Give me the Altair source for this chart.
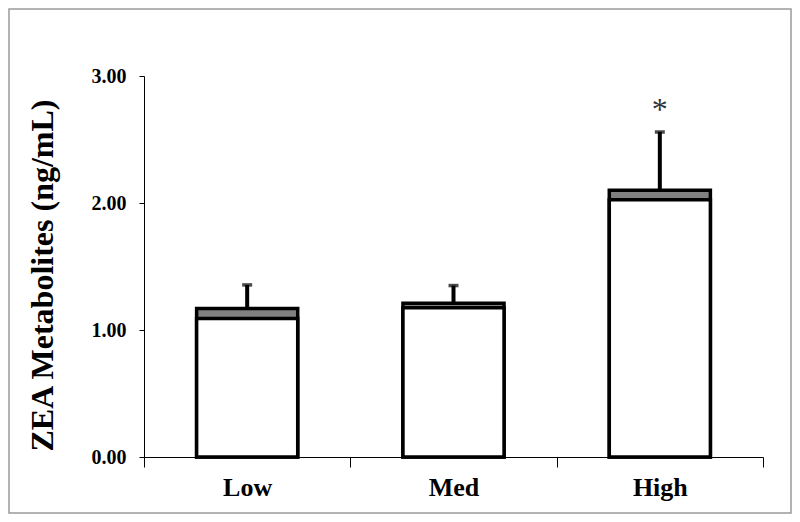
import altair as alt
import pandas as pd

# ---- data ----
groups = ["Low", "Med", "High"]
lower_values = [1.09, 1.175, 2.025]   # white (lower) segment top
total_values = [1.17, 1.21, 2.10]     # grey (upper) segment top
error_tops = [1.355, 1.35, 2.56]      # upper end of the error bar
significance = ["", "", "*"]
y_ticks = [0, 1, 2, 3]

df = pd.DataFrame({
    "group": groups,
    "lower": lower_values,
    "total": total_values,
    "err": error_tops,
    "sig": significance,
})

FONT = "Liberation Serif"

x_enc = alt.X(
    "group:N",
    sort=groups,
    title=None,
    scale=alt.Scale(paddingInner=0, paddingOuter=0),
    axis=alt.Axis(
        tickBand="extent",
        labelAngle=0,
        labelFont=FONT,
        labelFontSize=26,
        labelFontWeight="bold",
        labelColor="black",
        labelBaseline="middle",
        labelPadding=20,
        tickSize=10,
        tickColor="black",
        domainColor="black",
        domainWidth=1,
        tickWidth=1,
    ),
)

y_scale = alt.Scale(domain=[0, 3], nice=False)

grey_bar = alt.Chart(df).mark_bar(
    fill="#808080", stroke="black", strokeWidth=3.5,
    width=alt.RelativeBandSize(0.49),
).encode(
    x=x_enc,
    y=alt.Y(
        "total:Q",
        scale=y_scale,
        title="ZEA Metabolites (ng/mL)",
        axis=alt.Axis(
            values=y_ticks,
            format=".2f",
            grid=False,
            labelFont=FONT,
            labelFontSize=20,
            labelFontWeight="bold",
            labelColor="black",
            labelPadding=13,
            tickSize=5,
            tickColor="black",
            tickWidth=1,
            domainColor="black",
            domainWidth=1,
            titleFont=FONT,
            titleFontSize=32,
            titleFontWeight="bold",
            titleColor="black",
            titleX=-102,
            titleY=199,
            titleBaseline="middle",
            titleAngle=-90,
        ),
    ),
)

white_bar = alt.Chart(df).mark_bar(
    fill="white", stroke="black", strokeWidth=3.5,
    width=alt.RelativeBandSize(0.49),
).encode(
    x=alt.X("group:N", sort=groups),
    y=alt.Y("lower:Q", scale=y_scale),
)

err_rule = alt.Chart(df).mark_rule(color="black", strokeWidth=4).encode(
    x=alt.X("group:N", sort=groups),
    y=alt.Y("total:Q", scale=y_scale),
    y2="err:Q",
)

err_cap = alt.Chart(df).mark_tick(
    color="black", thickness=3.5, size=10, orient="horizontal"
).encode(
    x=alt.X("group:N", sort=groups),
    y=alt.Y("err:Q", scale=y_scale),
)

stars = alt.Chart(df).mark_text(
    font=FONT, fontSize=32, color="#333333", baseline="middle", dy=-22
).encode(
    x=alt.X("group:N", sort=groups),
    y=alt.Y("err:Q", scale=y_scale),
    text="sig:N",
)

frame = alt.Chart(pd.DataFrame({"k": [0]})).mark_rect(
    fill="transparent", stroke="#9a9a9a", strokeWidth=1.5
).encode(
    x=alt.value(-135),
    x2=alt.value(647),
    y=alt.value(-67),
    y2=alt.value(437),
)

chart = alt.layer(grey_bar, white_bar, err_rule, err_cap, stars, frame).properties(
    width=619,
    height=381,
    autosize=alt.AutoSizeParams(type="none"),
    padding={"left": 136, "top": 68, "right": 29, "bottom": 57},
    background="white",
).configure_view(stroke=None)

chart.save("out.html", embed_options={"renderer": "svg", "actions": False})
